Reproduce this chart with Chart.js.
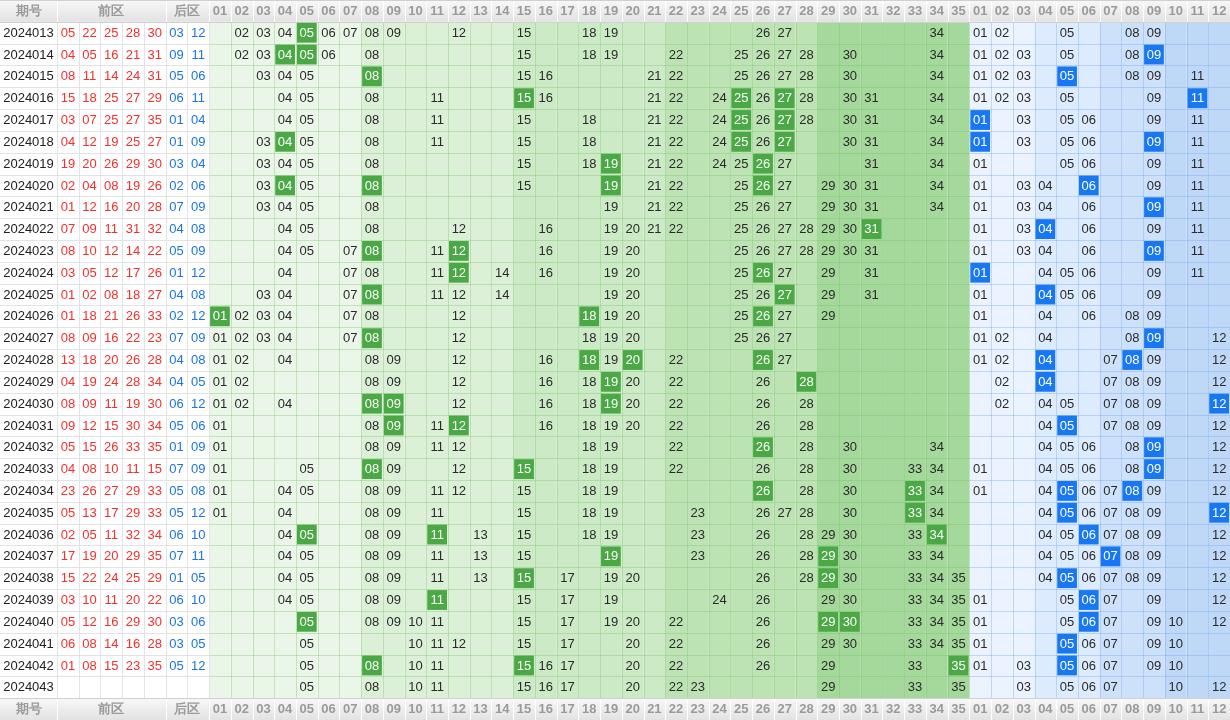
<!DOCTYPE html>
<html><head><meta charset="utf-8">
<script src="https://cdn.jsdelivr.net/npm/chart.js@4"></script>
<style>html,body{margin:0;padding:0;background:#fff}#w{width:1230px;height:720px}</style>
</head><body><div id="w"><canvas id="c"></canvas></div>
<script>
const periods = ['2024013','2024014','2024015','2024016','2024017','2024018','2024019','2024020','2024021','2024022','2024023','2024024','2024025','2024026','2024027','2024028','2024029','2024030','2024031','2024032','2024033','2024034','2024035','2024036','2024037','2024038','2024039','2024040','2024041','2024042','2024043'];
const frontDraw = [[5,22,25,28,30],[4,5,16,21,31],[8,11,14,24,31],[15,18,25,27,29],[3,7,25,27,35],[4,12,19,25,27],[19,20,26,29,30],[2,4,8,19,26],[1,12,16,20,28],[7,9,11,31,32],[8,10,12,14,22],[3,5,12,17,26],[1,2,8,18,27],[1,18,21,26,33],[8,9,16,22,23],[13,18,20,26,28],[4,19,24,28,34],[8,9,11,19,30],[9,12,15,30,34],[5,15,26,33,35],[4,8,10,11,15],[23,26,27,29,33],[5,13,17,29,33],[2,5,11,32,34],[17,19,20,29,35],[15,22,24,25,29],[3,10,11,20,22],[5,12,16,29,30],[6,8,14,16,28],[1,8,15,23,35],[]];
const backDraw = [[3,12],[9,11],[5,6],[6,11],[1,4],[1,9],[3,4],[2,6],[7,9],[4,8],[5,9],[1,12],[4,8],[2,12],[7,9],[4,8],[4,5],[6,12],[5,6],[1,9],[7,9],[5,8],[5,12],[6,10],[7,11],[1,5],[6,10],[3,6],[3,5],[5,12],[]];
const frontShown = [
[2,3,4,5,6,7,8,9,12,15,18,19,26,27,34],
[2,3,4,5,6,8,15,18,19,22,25,26,27,28,30,34],
[3,4,5,8,15,16,21,22,25,26,27,28,30,34],
[4,5,8,11,15,16,21,22,24,25,26,27,28,30,31,34],
[4,5,8,11,15,18,21,22,24,25,26,27,28,30,31,34],
[3,4,5,8,11,15,18,21,22,24,25,26,27,30,31,34],
[3,4,5,8,15,18,19,21,22,24,25,26,27,31,34],
[3,4,5,8,15,19,21,22,25,26,27,29,30,31,34],
[3,4,5,8,19,21,22,25,26,27,29,30,31,34],
[4,5,8,12,16,19,20,21,22,25,26,27,28,29,30,31],
[4,5,7,8,11,12,16,19,20,25,26,27,28,29,30,31],
[4,7,8,11,12,14,16,19,20,25,26,27,29,31],
[3,4,7,8,11,12,14,19,20,25,26,27,29,31],
[1,2,3,4,7,8,12,18,19,20,25,26,27,29],
[1,2,3,4,7,8,12,18,19,20,25,26,27],
[1,2,4,8,9,12,16,18,19,20,22,26,27],
[1,2,8,9,12,16,18,19,20,22,26,28],
[1,2,4,8,9,12,16,18,19,20,22,26,28],
[1,8,9,11,12,16,18,19,20,22,26,28],
[1,8,9,11,12,18,19,22,26,28,30,34],
[1,5,8,9,12,15,18,19,22,26,28,30,33,34],
[1,4,5,8,9,11,12,15,18,19,26,28,30,33,34],
[1,4,8,9,11,15,18,19,23,26,27,28,30,33,34],
[4,5,8,9,11,13,15,18,19,23,26,28,29,30,33,34],
[4,5,8,9,11,13,15,19,23,26,28,29,30,33,34],
[4,5,8,9,11,13,15,17,19,20,26,28,29,30,33,34,35],
[4,5,8,9,11,15,17,19,24,26,29,30,33,34,35],
[5,8,9,10,11,15,17,19,20,22,26,29,30,33,34,35],
[5,10,11,12,15,17,20,22,26,29,30,33,34,35],
[5,8,10,11,15,16,17,20,22,26,29,33,35],
[5,8,10,11,15,16,17,20,22,23,29,33,35]];
const frontHit = [[5],[4,5],[8],[15,25,27],[25,27],[4,25,27],[19,26],[4,8,19,26],[],[31],[8,12],[12,26],[8,27],[1,18,26],[8],[18,20,26],[19,28],[8,9,19],[9,12],[26],[8,15],[26,33],[33],[5,11,34],[19,29],[15,29],[11],[5,29,30],[],[8,15,35],[]];
const backShown = [
[1,2,5,8,9],[1,2,3,5,8,9],[1,2,3,5,8,9,11],[1,2,3,5,9,11],[1,3,5,6,9,11],[1,3,5,6,9,11],[1,5,6,9,11],[1,3,4,6,9,11],[1,3,4,6,9,11],[1,3,4,6,9,11],[1,3,4,6,9,11],[1,4,5,6,9,11],[1,4,5,6,9],[1,4,6,8,9],[1,2,4,8,9,12],[1,2,4,7,8,9,12],[2,4,7,8,9,12],[2,4,5,7,8,9,12],[4,5,7,8,9,12],[4,5,6,8,9,12],[1,4,5,6,8,9,12],[1,4,5,6,7,8,9,12],[4,5,6,7,8,9,12],[4,5,6,7,8,9,12],[4,5,6,7,8,9,12],[4,5,6,7,8,9,12],[1,5,6,7,9,12],[1,5,6,7,9,10,12],[1,5,6,7,9,10],[1,3,5,6,7,9,10],[3,5,6,7,10,12]];
const backHit = [[],[9],[5],[11],[1],[1,9],[],[6],[9],[4],[9],[1],[4],[],[9],[4,8],[4],[12],[5],[9],[9],[5,8],[5,12],[6],[7],[5],[6],[6],[5],[5],[]];
const headLeft = ['期号','前区','后区'];

const pad = n => String(n).padStart(2,'0');
const N = periods.length;
function ds(label, pts, color, hit, bold){ return {label, data:pts, textColor:color, hit:hit||null, pointRadius:0, showLine:false}; }
const pPer=[],pFD=[],pBD=[],pFS=[],pFH=[],pBS=[],pBH=[],pHead=[];
periods.forEach((p,r)=>{
  const y=r+1.5;
  pPer.push({x:-1.3125,y,t:p});
  frontDraw[r].forEach((v,i)=>pFD.push({x:i+0.5,y,t:pad(v)}));
  backDraw[r].forEach((v,i)=>pBD.push({x:5+i+0.5,y,t:pad(v)}));
  frontShown[r].forEach(v=>{ (frontHit[r].includes(v)?pFH:pFS).push({x:6+v+0.5,y,t:pad(v)}); });
  backShown[r].forEach(v=>{ (backHit[r].includes(v)?pBH:pBS).push({x:41+v+0.5,y,t:pad(v)}); });
});
[0.5,N+1.5].forEach(y=>{
  pHead.push({x:-1.3125,y,t:headLeft[0]},{x:2.5,y,t:headLeft[1]},{x:6,y,t:headLeft[2]});
  for(let n=1;n<=35;n++) pHead.push({x:6+n+0.5,y,t:pad(n)});
  for(let n=1;n<=12;n++) pHead.push({x:41+n+0.5,y,t:pad(n)});
});
const datasets=[
  ds('期号',pPer,'#222'),ds('前区',pFD,'#f2302c'),ds('后区',pBD,'#1a73e8'),
  ds('front',pFS,'#2a2a2a'),ds('frontHit',pFH,'#fff','#4aa845'),
  ds('back',pBS,'#2a2a2a'),ds('backHit',pBH,'#fff','#1877f2'),
  ds('head',pHead,'#9a9a9a')];
const fg=['#eaf6e7','#dcf0d7','#cdeac6','#bde3b4','#a5d89b'];
const bg=['#eaf3ff','#dcebfd','#cde1fa','#bfd8f8'];
const plugin={id:'grid',
 beforeDatasetsDraw(ch){
  const c=ch.ctx,X=ch.scales.x,Y=ch.scales.y;
  const px=v=>X.getPixelForValue(v),py=v=>Y.getPixelForValue(v);
  const rect=(x0,x1,y0,y1,col)=>{c.fillStyle=col;c.fillRect(px(x0),py(y0),px(x1)-px(x0),py(y1)-py(y0));};
  rect(-2.625,7,1,N+1,'#fff');
  for(let n=1;n<=35;n++) rect(6+n,7+n,1,N+1,fg[Math.floor((n-1)/7)]);
  for(let n=1;n<=12;n++) rect(41+n,42+n,1,N+1,bg[Math.floor((n-1)/3)]);
  // lines
  c.lineWidth=1;
  const vl=(x,y0,y1,col)=>{c.strokeStyle=col;c.beginPath();c.moveTo(Math.round(px(x))+0.5,py(y0));c.lineTo(Math.round(px(x))+0.5,py(y1));c.stroke();};
  const hl=(x0,x1,y,col)=>{c.strokeStyle=col;c.beginPath();c.moveTo(px(x0),Math.round(py(y))+0.5);c.lineTo(px(x1),Math.round(py(y))+0.5);c.stroke();};
  for(let r=1;r<=N+1;r++){hl(-2.625,7,r,'#e3e3e3');hl(7,42,r,'rgba(120,190,105,0.35)');hl(42,54,r,'rgba(110,160,235,0.35)');}
  for(let i=0;i<=7;i++) vl(i,1,N+1,'#e3e3e3');
  for(let i=8;i<=42;i++) vl(i,1,N+1,'rgba(120,190,105,0.35)');
  for(let i=43;i<=54;i++) vl(i,1,N+1,'rgba(110,160,235,0.35)');
  // headers
  [0,N+1].forEach(y=>{
    const g=c.createLinearGradient(0,py(y),0,py(y+1));g.addColorStop(0,'#f8f8f8');g.addColorStop(1,'#e2e2e2');
    c.fillStyle=g;c.fillRect(px(-2.625),py(y),px(54)-px(-2.625),py(y+1)-py(y));
    [0,5].concat(Array.from({length:48},(_,k)=>7+k)).forEach(x=>vl(x,y,y+1,'#fff'));
    hl(-2.625,54,y+1,'#d0d0d0');hl(-2.625,54,y,'#d0d0d0');
  });
  // hit cells
  ch.data.datasets.forEach((d,i)=>{ if(!d.hit) return;
    const w=px(1)-px(0),h=py(1)-py(0);
    ch.getDatasetMeta(i).data.forEach(el=>{c.fillStyle=d.hit;c.fillRect(el.x-w/2+1,el.y-h/2+1,w-2,h-2);});
  });
 },
 afterDatasetsDraw(ch){
  const c=ch.ctx;c.textAlign='center';c.textBaseline='middle';
  ch.data.datasets.forEach((d,i)=>{
    c.fillStyle=d.textColor;
    c.font=(d.label==='head'?'bold 13px':'13px')+' "Liberation Sans", Arial, sans-serif';
    ch.getDatasetMeta(i).data.forEach((el,j)=>c.fillText(d.data[j].t,el.x,el.y+0.5));
  });
 }};
new Chart(document.getElementById('c'),{type:'scatter',data:{datasets},
 options:{responsive:true,maintainAspectRatio:false,animation:false,layout:{padding:0},
  plugins:{legend:{display:false},tooltip:{enabled:false}},
  scales:{x:{type:'linear',min:-2.625,max:54,display:false},y:{type:'linear',min:0,max:N+2,reverse:true,display:false}}},
 plugins:[plugin]});
</script></body></html>
